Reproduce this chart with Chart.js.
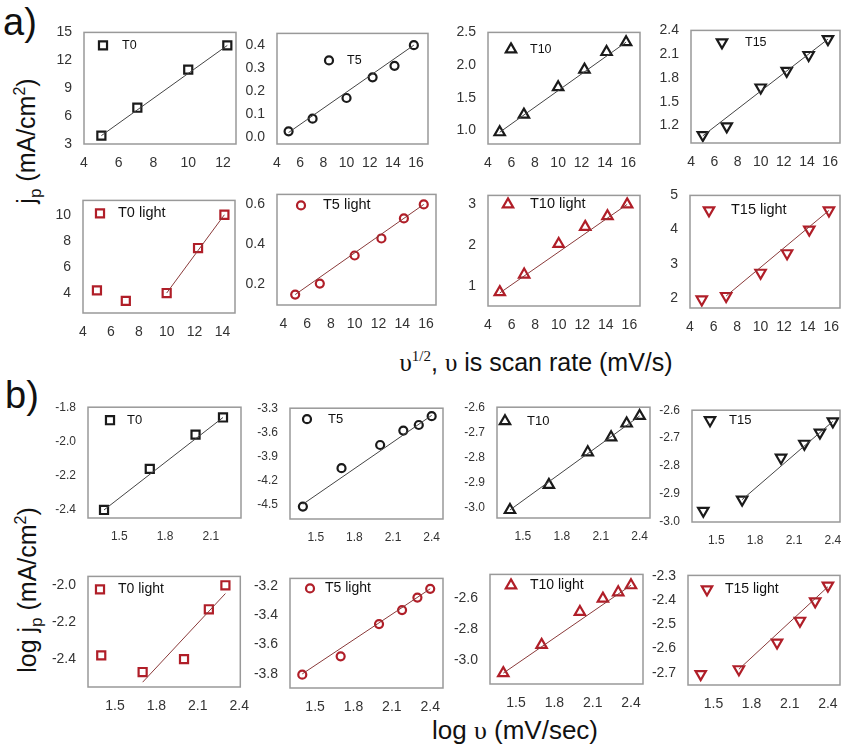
<!DOCTYPE html>
<html>
<head>
<meta charset="utf-8">
<script src="https://cdn.jsdelivr.net/npm/chart.js@4.4.1/dist/chart.umd.min.js"></script>
<style>
  html, body { margin: 0; padding: 0; background: #fff; overflow: hidden; }
  #fig { position: relative; width: 841px; height: 744px; overflow: hidden;
         font-family: "Liberation Sans", Arial, sans-serif; color: #111; }
  .pane { position: absolute; }
  .txt { position: absolute; white-space: nowrap; line-height: 1; }
  .serif { font-family: "Liberation Serif", "DejaVu Serif", serif; }
  .rot { transform: translate(-50%, -50%) rotate(-90deg); }
  .ctr { transform: translate(-50%, -50%); }
</style>
</head>
<body>
<div id="fig">
  <div class="txt" style="left:3px;top:3px;font-size:38px">a)</div>
  <div class="txt" style="left:5px;top:376px;font-size:38px">b)</div>
  <div class="txt rot" style="left:28px;top:141px;font-size:25px">j<sub style="font-size:17px">p</sub> (mA/cm<sup style="font-size:16px">2</sup>)</div>
  <div class="txt rot" style="left:29px;top:590px;font-size:25px">log j<sub style="font-size:17px">p</sub> (mA/cm<sup style="font-size:16px">2</sup>)</div>
  <div class="txt ctr" style="left:536px;top:362px;font-size:25px"><span class="serif">&#965;</span><sup class="serif" style="font-size:15px">1/2</sup>, <span class="serif">&#965;</span> is scan rate (mV/s)</div>
  <div class="txt ctr" style="left:515px;top:730px;font-size:26px">log <span class="serif">&#965;</span> (mV/sec)</div>
</div>
<script>
// x values: square root of scan rate (a) and log of scan rate (b)
const sqrtRate = [5, 7.07, 10, 12.25, 14.14, 15.81];
const logRate = [1.40, 1.70, 2.00, 2.18, 2.30, 2.40];

// a) peak current jp (mA/cm2)
const jT0 = [3.9, 6.9, 11.0, 13.6];
const jT5 = [0.025, 0.08, 0.17, 0.26, 0.31, 0.40];
const jT10 = [0.97, 1.24, 1.66, 1.93, 2.20, 2.35];
const jT15 = [1.08, 1.19, 1.68, 1.89, 2.09, 2.29];
const jT0L = [4.2, 3.4, 4.0, 7.45, 10.0];
const jT5L = [0.15, 0.205, 0.345, 0.43, 0.53, 0.60];
const jT10L = [0.85, 1.28, 2.03, 2.45, 2.71, 3.0];
const jT15L = [1.96, 2.06, 2.74, 3.31, 4.0, 4.56];

// b) log jp
const logT0 = [-2.40, -2.16, -1.96, -1.86];
const logT5 = [-4.53, -4.05, -3.76, -3.58, -3.51, -3.40];
const logT10 = [-3.01, -2.91, -2.78, -2.72, -2.665, -2.635];
const logT15 = [-2.96, -2.92, -2.77, -2.72, -2.68, -2.64];
const logT0L = [-2.38, -2.47, -2.40, -2.13, -2.00];
const logT5L = [-3.805, -3.68, -3.46, -3.365, -3.28, -3.22];
const logT10L = [-3.08, -2.90, -2.69, -2.605, -2.565, -2.52];
const logT15L = [-2.705, -2.685, -2.575, -2.485, -2.405, -2.34];

// linear fit end points [x, y]
const fitT0 = [[5, 3.9], [12.25, 13.6]];
const fitT5 = [[5, 0.02], [15.81, 0.40]];
const fitT10 = [[5, 0.97], [15.81, 2.35]];
const fitT15 = [[5, 1.07], [15.81, 2.29]];
const fitT0L = [[10, 4.0], [14.14, 10.0]];
const fitT5L = [[5, 0.15], [15.81, 0.60]];
const fitT10L = [[5, 0.83], [15.81, 3.0]];
const fitT15L = [[7.07, 2.06], [15.81, 4.56]];
const fitLogT0 = [[1.40, -2.40], [2.18, -1.86]];
const fitLogT5 = [[1.40, -4.50], [2.40, -3.39]];
const fitLogT10 = [[1.40, -3.01], [2.40, -2.635]];
const fitLogT15 = [[1.70, -2.92], [2.40, -2.64]];
const fitLogT0L = [[1.70, -2.525], [2.30, -2.045]];
const fitLogT5L = [[1.40, -3.80], [2.40, -3.22]];
const fitLogT10L = [[1.40, -3.08], [2.40, -2.52]];
const fitLogT15L = [[1.70, -2.685], [2.40, -2.345]];

// tick labels
const ticksA = [4, 6, 8, 10, 12, 14, 16];
const ticksB = [1.5, 1.8, 2.1, 2.4];
const yTicksT0 = [3, 6, 9, 12, 15];
const yTicksT5 = [0.0, 0.1, 0.2, 0.3, 0.4];
const yTicksT10 = [1.0, 1.5, 2.0, 2.5];
const yTicksT15 = [1.2, 1.5, 1.8, 2.1, 2.4];
const yTicksT0L = [4, 6, 8, 10];
const yTicksT5L = [0.2, 0.4, 0.6];
const yTicksT10L = [1, 2, 3];
const yTicksT15L = [2, 3, 4, 5];
const yTicksLogT0 = [-2.4, -2.2, -2.0, -1.8];
const yTicksLogT5 = [-4.5, -4.2, -3.9, -3.6, -3.3];
const yTicksLogT10 = [-3.0, -2.9, -2.8, -2.7, -2.6];
const yTicksLogT15 = [-3.0, -2.9, -2.8, -2.7, -2.6];
const yTicksLogT0L = [-2.4, -2.2, -2.0];
const yTicksLogT5L = [-3.8, -3.6, -3.4, -3.2];
const yTicksLogT10L = [-3.0, -2.8, -2.6];
const yTicksLogT15L = [-2.7, -2.6, -2.5, -2.4, -2.3];

const BLACK = '#1a1a1a', RED = '#b01e28';
const LINE_BLACK = '#444', LINE_RED = '#8a3a3a';
const symbols = {
  sq: { style: 'rect', rot: 0, r: 5.7 },
  ci: { style: 'circle', rot: 0, r: 4 },
  up: { style: 'triangle', rot: 0, r: 6 },
  dn: { style: 'triangle', rot: 180, r: 6 }
};

// box = plot frame [left, top, right, bottom] in page pixels
const panels = [
  { name: 'T0', box: [84, 30, 236, 144], x: [4, 12.75], y: [3, 15], xt: ticksA, yt: yTicksT0, yd: 0,
    xs: sqrtRate, ys: jT0, fit: fitT0, sym: 'sq', red: false, leg: [19, 13, 38], fs: 14, lfs: 12.5 },
  { name: 'T5', box: [277, 31, 428, 144], x: [4, 17.03], y: [-0.03, 0.451], xt: ticksA, yt: yTicksT5, yd: 1,
    xs: sqrtRate, ys: jT5, fit: fitT5, sym: 'ci', red: false, leg: [52, 27, 70], fs: 14, lfs: 12.5 },
  { name: 'T10', box: [488, 30, 640, 144], x: [4, 17], y: [0.79, 2.5], xt: ticksA, yt: yTicksT10, yd: 1,
    xs: sqrtRate, ys: jT10, fit: fitT10, sym: 'up', red: false, leg: [23, 17, 42], fs: 14, lfs: 12.5 },
  { name: 'T15', box: [691, 28, 840, 143], x: [3.98, 16.85], y: [0.98, 2.4], xt: ticksA, yt: yTicksT15, yd: 1,
    xs: sqrtRate, ys: jT15, fit: fitT15, sym: 'dn', red: false, leg: [31, 12, 54], fs: 14, lfs: 12.5 },

  { name: 'T0 light', box: [83, 198, 235, 313], x: [4, 14.9], y: [2.47, 11.1], xt: ticksA, yt: yTicksT0L, yd: 0,
    xs: sqrtRate, ys: jT0L, fit: fitT0L, sym: 'sq', red: true, leg: [17, 13, 35], fs: 14, lfs: 14.5 },
  { name: 'T5 light', box: [277, 192, 436, 305], x: [3.47, 16.84], y: [0.098, 0.65], xt: ticksA, yt: yTicksT5L, yd: 1,
    xs: sqrtRate, ys: jT5L, fit: fitT5L, sym: 'ci', red: true, leg: [24, 11, 46], fs: 14, lfs: 14.5 },
  { name: 'T10 light', box: [488, 193, 640, 306], x: [4, 16.9], y: [0.51, 3.22], xt: ticksA, yt: yTicksT10L, yd: 0,
    xs: sqrtRate, ys: jT10L, fit: fitT10L, sym: 'up', red: true, leg: [20, 9, 42], fs: 14, lfs: 14.5 },
  { name: 'T15 light', box: [690, 193, 840, 308], x: [4, 16.75], y: [1.71, 5], xt: ticksA, yt: yTicksT15L, yd: 0,
    xs: sqrtRate, ys: jT15L, fit: fitT15L, sym: 'dn', red: true, leg: [19, 15, 41], fs: 14, lfs: 14.5 },

  { name: 'T0', box: [88, 406, 241, 518], x: [1.295, 2.298], y: [-2.447, -1.8], xt: ticksB, yt: yTicksLogT0, yd: 1,
    xs: logRate, ys: logT0, fit: fitLogT0, sym: 'sq', red: false, leg: [22, 13, 39], fs: 12, lfs: 13 },
  { name: 'T5', box: [290, 407, 443, 519], x: [1.30, 2.488], y: [-4.685, -3.3], xt: ticksB, yt: yTicksLogT5, yd: 1,
    xs: logRate, ys: logT5, fit: fitLogT5, sym: 'ci', red: false, leg: [17, 11, 38], fs: 12, lfs: 13 },
  { name: 'T10', box: [497, 406, 650, 518], x: [1.30, 2.48], y: [-3.042, -2.6], xt: ticksB, yt: yTicksLogT10, yd: 1,
    xs: logRate, ys: logT10, fit: fitLogT10, sym: 'up', red: false, leg: [8, 14, 30], fs: 12, lfs: 13 },
  { name: 'T15', box: [692, 409, 840, 522], x: [1.313, 2.455], y: [-3.0, -2.6], xt: ticksB, yt: yTicksLogT15, yd: 1,
    xs: logRate, ys: logT15, fit: fitLogT15, sym: 'dn', red: false, leg: [18, 10, 37], fs: 12, lfs: 13 },

  { name: 'T0 light', box: [88, 574, 242, 687], x: [1.304, 2.408], y: [-2.551, -1.952], xt: ticksB, yt: yTicksLogT0L, yd: 1,
    xs: logRate, ys: logT0L, fit: fitLogT0L, sym: 'sq', red: true, leg: [12, 13, 30], fs: 14, lfs: 14 },
  { name: 'T5 light', box: [290, 576, 443, 688], x: [1.304, 2.5], y: [-3.896, -3.149], xt: ticksB, yt: yTicksLogT5L, yd: 1,
    xs: logRate, ys: logT5L, fit: fitLogT5L, sym: 'ci', red: true, leg: [20, 10, 35], fs: 14, lfs: 14 },
  { name: 'T10 light', box: [490, 572, 643, 684], x: [1.296, 2.494], y: [-3.149, -2.451], xt: ticksB, yt: yTicksLogT10L, yd: 1,
    xs: logRate, ys: logT10L, fit: fitLogT10L, sym: 'up', red: true, leg: [21, 11, 40], fs: 14, lfs: 14 },
  { name: 'T15 light', box: [688, 573, 840, 685], x: [1.30, 2.495], y: [-2.75, -2.298], xt: ticksB, yt: yTicksLogT15L, yd: 1,
    xs: logRate, ys: logT15L, fit: fitLogT15L, sym: 'dn', red: true, leg: [19, 14, 37], fs: 14, lfs: 14 }
];

// frame around the plot area and the small legend inside it
const framePlugin = {
  id: 'frame',
  afterDatasetsDraw(chart, args, o) {
    const { ctx, chartArea: a } = chart;
    ctx.save();
    ctx.strokeStyle = '#999';
    ctx.lineWidth = 1.5;
    ctx.strokeRect(a.left, a.top, a.right - a.left, a.bottom - a.top);

    const ds = chart.data.datasets[1];
    ctx.strokeStyle = ds.borderColor;
    ctx.fillStyle = '#fff';
    ctx.lineWidth = ds.pointBorderWidth;
    Chart.helpers.drawPoint(ctx, {
      pointStyle: ds.pointStyle, rotation: ds.pointRotation, radius: ds.pointRadius, borderWidth: ds.pointBorderWidth
    }, a.left + o.leg[0], a.top + o.leg[1]);

    ctx.fillStyle = '#111';
    ctx.font = o.lfs + 'px "Liberation Sans", Arial, sans-serif';
    ctx.textBaseline = 'middle';
    ctx.fillText(o.name, a.left + o.leg[2], a.top + o.leg[1]);
    ctx.restore();
  }
};

const fig = document.getElementById('fig');
const PAD_T = 10, PAD_R = 10, Y_W = 40, X_H = 24;

panels.forEach(p => {
  const w = p.box[2] - p.box[0], h = p.box[3] - p.box[1];
  const W = w + Y_W + PAD_R, H = h + PAD_T + X_H;
  const div = document.createElement('div');
  div.className = 'pane';
  div.style.left = (p.box[0] - Y_W) + 'px';
  div.style.top = (p.box[1] - PAD_T) + 'px';
  const cv = document.createElement('canvas');
  cv.width = W; cv.height = H;
  cv.style.width = W + 'px'; cv.style.height = H + 'px';
  div.appendChild(cv);
  fig.appendChild(div);

  const s = symbols[p.sym];
  const col = p.red ? RED : BLACK;
  const tickFont = { family: '"Liberation Sans", Arial, sans-serif', size: p.fs };

  new Chart(cv, {
    type: 'scatter',
    data: {
      datasets: [
        {
          type: 'line',
          data: p.fit.map(([x, y]) => ({ x, y })),
          borderColor: p.red ? LINE_RED : LINE_BLACK,
          borderWidth: 1,
          pointRadius: 0,
          fill: false,
          clip: false
        },
        {
          data: p.xs.slice(0, p.ys.length).map((x, i) => ({ x, y: p.ys[i] })),
          pointStyle: s.style,
          pointRotation: s.rot,
          pointRadius: s.r,
          pointHoverRadius: s.r,
          pointBorderWidth: 2.2,
          borderColor: col,
          backgroundColor: '#fff',
          clip: false
        }
      ]
    },
    options: {
      responsive: false,
      animation: false,
      devicePixelRatio: 1,
      layout: { padding: { top: PAD_T, right: PAD_R, left: 0, bottom: 0 } },
      plugins: {
        legend: { display: false },
        tooltip: { enabled: false },
        frame: p
      },
      scales: {
        x: {
          type: 'linear',
          min: p.x[0], max: p.x[1],
          afterBuildTicks: sc => {
            sc.ticks = p.xt.filter(v => v >= sc.min - 1e-6 && v <= sc.max + 1e-6).map(v => ({ value: v }));
          },
          afterFit: sc => { sc.height = X_H; },
          grid: { display: false },
          border: { display: false },
          ticks: {
            font: tickFont, color: '#333', padding: 3, maxRotation: 0, autoSkip: false,
            callback: v => (p.xt === ticksB ? v.toFixed(1) : String(v))
          }
        },
        y: {
          type: 'linear',
          min: p.y[0], max: p.y[1],
          afterBuildTicks: sc => {
            sc.ticks = p.yt.filter(v => v >= sc.min - 1e-6 && v <= sc.max + 1e-6).map(v => ({ value: v }));
          },
          afterFit: sc => { sc.width = Y_W; },
          grid: { display: false },
          border: { display: false },
          ticks: {
            font: tickFont, color: '#333', padding: 4, autoSkip: false,
            callback: v => v.toFixed(p.yd)
          }
        }
      }
    },
    plugins: [framePlugin]
  });
});
</script>
</body>
</html>
